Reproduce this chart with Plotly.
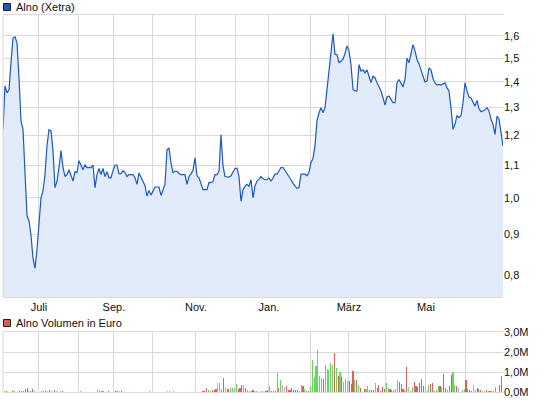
import numpy as np
import plotly.graph_objects as go

# Closing prices (EUR), sampled evenly over the period
price = [
    1.22, 1.384, 1.356, 1.368, 1.48, 1.59, 1.595, 1.568, 1.417, 1.25, 1.22, 1.07, 0.95, 0.935, 0.897, 0.84,
    0.815, 0.861, 0.933, 1.0, 1.021, 1.07, 1.164, 1.219, 1.215, 1.147, 1.03, 1.05, 1.092, 1.147, 1.092, 1.064,
    1.07, 1.085, 1.067, 1.05, 1.079, 1.076, 1.114, 1.10, 1.085, 1.10, 1.092, 1.092, 1.092, 1.10, 1.03, 1.07,
    1.089, 1.07, 1.089, 1.064, 1.079, 1.06, 1.06, 1.082, 1.10, 1.10, 1.073, 1.073, 1.082, 1.076,
    1.064, 1.07, 1.07, 1.07, 1.06, 1.04, 1.075, 1.06, 1.049, 1.036, 1.005, 1.022, 1.008, 1.022, 1.032, 1.032,
    1.032, 1.007, 1.022, 1.04, 1.15, 1.156, 1.106, 1.075, 1.081, 1.08, 1.073, 1.07, 1.07, 1.07, 1.04, 1.064,
    1.072, 1.083, 1.123, 1.066, 1.06, 1.044, 1.024, 1.024, 1.024, 1.046, 1.045, 1.049, 1.07, 1.07, 1.08, 1.201,
    1.097, 1.064, 1.062, 1.062, 1.066, 1.077, 1.089, 1.09, 1.064, 0.99, 1.024, 1.034, 1.04, 1.034, 1.054, 1.0,
    1.035, 1.05, 1.055, 1.064, 1.057, 1.054, 1.054, 1.059, 1.05, 1.059, 1.071, 1.071, 1.081, 1.092, 1.092, 1.083,
    1.073, 1.064, 1.054, 1.043, 1.035, 1.028, 1.03, 1.071, 1.071, 1.071, 1.066, 1.077, 1.108, 1.121, 1.163, 1.25,
    1.28, 1.299, 1.28, 1.299, 1.37, 1.445, 1.517, 1.61, 1.517, 1.515, 1.48, 1.487, 1.494, 1.52, 1.554, 1.532,
    1.472, 1.37, 1.364, 1.364, 1.472, 1.445, 1.45, 1.437, 1.45, 1.423, 1.397, 1.423, 1.417, 1.397,
    1.379, 1.364, 1.337, 1.309, 1.34, 1.344, 1.331, 1.318, 1.318, 1.396, 1.41, 1.396, 1.38, 1.41, 1.5, 1.48,
    1.513, 1.56, 1.532, 1.494, 1.475, 1.45, 1.423, 1.40, 1.403, 1.458, 1.45, 1.414, 1.396, 1.387, 1.39, 1.387,
    1.392, 1.396, 1.376, 1.364, 1.299, 1.22, 1.238, 1.27, 1.262, 1.27, 1.318, 1.396, 1.364, 1.34, 1.336, 1.32,
    1.305, 1.327, 1.295, 1.284, 1.287, 1.29, 1.299, 1.287, 1.256, 1.238, 1.202, 1.268, 1.256, 1.21, 1.163,
]

# Trading-day number, volume (million EUR) and day direction (u=up, d=down, f=flat)
vol_day = [
    1, 2, 5, 6, 9, 10, 11, 12, 13, 14, 15, 16, 17, 21, 22, 23, 24, 25, 26, 28, 29, 31, 32, 42, 51, 52, 53, 54,
    57, 61, 62, 63, 64, 79, 89, 90, 92, 108, 109, 110, 111, 112, 113, 114, 115, 116, 117, 118, 119, 120, 121,
    122, 123, 124, 125, 126, 127, 128, 129, 130, 131, 132, 133,
    134, 135, 136, 137, 139, 140, 142, 143, 144, 145, 146, 147, 148, 149, 150, 151, 152, 153, 154, 155, 156,
    157, 158, 159, 160, 161, 162, 163, 164, 165, 166, 167, 168, 169, 170, 171, 172, 173, 174, 175, 176, 177,
    178, 179, 180, 181, 182, 183, 184, 185, 186, 187, 188, 189, 190, 191, 192, 193, 195, 196, 197, 198, 199,
    200, 201, 202, 203, 204, 205, 206, 207, 208, 209, 210, 211, 212, 213, 214, 215, 216, 217, 218, 219, 220,
    221, 222, 223, 224, 225, 226, 227, 228, 229, 230, 231, 232, 233, 234, 235, 236, 237, 238, 239, 240, 241,
    242, 243, 244, 245, 246, 248, 249, 250, 251, 252, 253, 254, 255, 256, 257, 258, 259, 260, 261, 262, 263,
    264, 265, 266, 268, 269, 270,
]
vol_mio = [
    0.05, 0.05, 0.1, 0.05, 0.05, 0.05, 0.07, 0.13, 0.2, 0.05, 0.05, 0.15, 0.05, 0.05, 0.05, 0.1, 0.05, 0.1,
    0.05, 0.1, 0.05, 0.05, 0.05, 0.05, 0.1, 0.1, 0.05, 0.05, 0.05, 0.05, 0.05, 0.05, 0.05, 0.05, 0.05, 0.05,
    0.05, 0.05, 0.05, 0.18, 0.1, 0.05, 0.1, 0.1, 0.15, 0.47, 0.47, 0.15, 0.7, 0.23, 0.13, 0.15, 0.2, 0.2,
    0.18, 0.4, 0.15, 0.2, 0.35, 0.35, 0.2, 0.1, 0.05,
    0.05, 0.1, 0.05, 0.05, 0.05, 0.05, 0.05, 0.1, 0.3, 0.05, 0.05, 0.1, 0.97, 0.2, 0.6, 0.35, 0.23, 0.3, 0.1,
    0.1, 0.2, 0.1, 0.1, 0.1, 0.05, 0.35, 0.3, 0.15, 0.05, 0.05, 0.3, 1.6, 0.77, 1.3, 2.1, 0.8, 0.68, 0.65,
    1.35, 1.15, 1.1, 1.47, 1.35, 1.97, 1.22, 0.8, 1.0, 0.75, 0.5, 0.65, 0.57, 0.55, 0.4, 1.05, 0.6, 0.6, 0.35,
    0.2, 0.15, 0.15, 0.3, 0.1, 0.1, 0.1, 0.47, 0.2, 0.37, 0.05, 0.27, 0.17, 0.47, 0.2, 0.15, 0.1, 0.1, 0.15,
    0.6, 0.52, 0.4, 0.15, 0.1, 1.27, 0.25, 0.05, 0.25, 0.5, 0.3, 0.27, 0.47, 0.65, 0.3, 0.3, 0.05, 0.35, 0.4,
    0.47, 0.05, 0.1, 0.3, 0.3, 0.25, 0.9, 0.2, 0.1, 0.3, 0.85, 1.0, 0.35, 0.3, 0.2, 0.1, 0.15, 0.6, 0.15, 0.1,
    0.05, 0.35, 0.1, 0.2, 0.15, 0.1, 0.05, 0.05, 0.1, 0.05, 0.05, 0.05, 0.05, 0.25, 0.35, 0.8, 0.6,
]
vol_dir = [
    "u", "d", "u", "u", "d", "d", "d", "d", "d", "u", "d", "d", "u", "u", "u", "u", "f", "d", "f", "d", "u",
    "f", "d", "u", "u", "u", "d", "u", "d", "u", "d", "f", "d", "u", "f", "u", "f", "d", "d", "d", "u", "u",
    "d", "d", "d", "f", "u", "u", "d", "f", "d", "d", "u", "u", "f", "u", "d", "d", "d", "u", "d", "u", "u",
    "d", "d", "u", "u", "f", "u", "d", "d", "u", "d", "d", "u", "u", "d", "u", "f", "f", "d", "d", "d", "d",
    "d", "d", "d", "u", "u", "d", "u", "d", "d", "u", "u", "u", "u", "u", "u", "u", "d", "u", "u", "u", "u",
    "u", "d", "u", "d", "u", "d", "u", "u", "f", "d", "d", "d", "u", "d", "u", "d", "d", "u", "u", "d", "d",
    "d", "u", "d", "d", "d", "d", "d", "u", "u", "d", "d", "d", "u", "u", "d", "d", "d", "u", "d", "f", "u",
    "u", "d", "d", "d", "d", "d", "d", "f", "u", "u", "d", "d", "d", "u", "u", "d", "u", "d", "d", "u", "d",
    "d", "u", "u", "d", "f", "u", "u", "d", "d", "d", "d", "f", "u", "d", "d", "d", "f", "u", "d", "u", "d",
    "u", "u", "u", "d", "d",
]

n_days = 270
month_pos = [19.4, 40.5, 59.9, 80.5, 104.2, 125.8, 143.6, 166.3, 186.8, 206.8, 228.4, 250.0]
month_labels = ["Juli", "", "Sep.", "", "Nov.", "", "Jan.", "", "März", "", "Mai", ""]
price_ticks = [0.8, 0.9, 1.0, 1.1, 1.2, 1.3, 1.4, 1.5, 1.6]
price_tick_text = ["0,8", "0,9", "1,0", "1,1", "1,2", "1,3", "1,4", "1,5", "1,6"]
vol_ticks = [0, 1, 2, 3]
vol_tick_text = ["0,0M", "1,0M", "2,0M", "3,0M"]

GRID = "#d9d9d9"
dir_color = {"u": "#62d95a", "d": "#de5f5f", "f": "#b4b4b4"}

price_x = np.linspace(0, n_days, len(price))

fig = go.Figure()
fig.add_trace(go.Scatter(
    x=price_x, y=price, mode="lines", fill="tozeroy",
    line=dict(color="#1c58c4", width=1.2), fillcolor="#e2ebf9",
    xaxis="x", yaxis="y", hoverinfo="skip",
))
n = min(len(vol_day), len(vol_mio), len(vol_dir))
fig.add_trace(go.Bar(
    x=vol_day[:n], y=vol_mio[:n], width=0.6,
    marker=dict(color=[dir_color[d] for d in vol_dir[:n]], line=dict(width=0)),
    xaxis="x2", yaxis="y2", hoverinfo="skip",
))

top_dom = [95 / 377, 1.0]
vol_dom = [0.0, 60 / 377]

axis_common = dict(
    range=[0, n_days], tickvals=month_pos, ticktext=month_labels,
    showgrid=True, gridcolor=GRID, gridwidth=1, ticks="",
    showline=True, mirror=True, linecolor=GRID, linewidth=1, zeroline=False,
)
fig.update_layout(
    width=545, height=401,
    margin=dict(l=3, r=42, t=15, b=9),
    paper_bgcolor="white", plot_bgcolor="white",
    showlegend=False,
    font=dict(family="Liberation Sans, Arial, sans-serif", size=11, color="#111"),
    xaxis=dict(domain=[0, 1], anchor="y", showticklabels=True, **axis_common),
    xaxis2=dict(domain=[0, 1], anchor="y2", showticklabels=False, **axis_common),
    yaxis=dict(
        domain=top_dom, type="log", range=[np.log10(0.75), np.log10(1.70)],
        side="right", tickvals=price_ticks, ticktext=price_tick_text,
        showgrid=True, gridcolor=GRID, ticks="", zeroline=False, showline=False,
    ),
    yaxis2=dict(
        domain=vol_dom, range=[0, 3], side="right",
        tickvals=vol_ticks, ticktext=vol_tick_text,
        showgrid=True, gridcolor=GRID, ticks="", zeroline=False, showline=False,
    ),
    bargap=0,
)

# left frame edges
for y0, y1 in (top_dom, vol_dom):
    fig.add_shape(type="line", xref="paper", yref="paper", x0=0, x1=0, y0=y0, y1=y1,
                  line=dict(color=GRID, width=1))

# legend boxes
def px_x(X):
    return (X - 3) / 500

def px_y(Y):
    return (392 - Y) / 377

fig.add_shape(type="rect", xref="paper", yref="paper",
              x0=px_x(3.5), x1=px_x(10.5), y0=px_y(10.5), y1=px_y(3.5),
              fillcolor="#1f55c0", line=dict(color="#222", width=1))
fig.add_shape(type="rect", xref="paper", yref="paper",
              x0=px_x(3.5), x1=px_x(10.5), y0=px_y(326.5), y1=px_y(319.5),
              fillcolor="#dc5c5c", line=dict(color="#222", width=1))
fig.add_annotation(text="Alno (Xetra)", xref="paper", yref="paper", x=px_x(14), y=px_y(7.5),
                   xanchor="left", yanchor="middle", showarrow=False,
                   font=dict(size=11, color="#111"))
fig.add_annotation(text="Alno Volumen in Euro", xref="paper", yref="paper", x=px_x(14), y=px_y(323),
                   xanchor="left", yanchor="middle", showarrow=False,
                   font=dict(size=11, color="#111"))

fig.write_html(
    "out.html",
    config={"displayModeBar": False, "staticPlot": True},
    post_script="document.body.style.margin='0';document.body.style.padding='0';",
)
